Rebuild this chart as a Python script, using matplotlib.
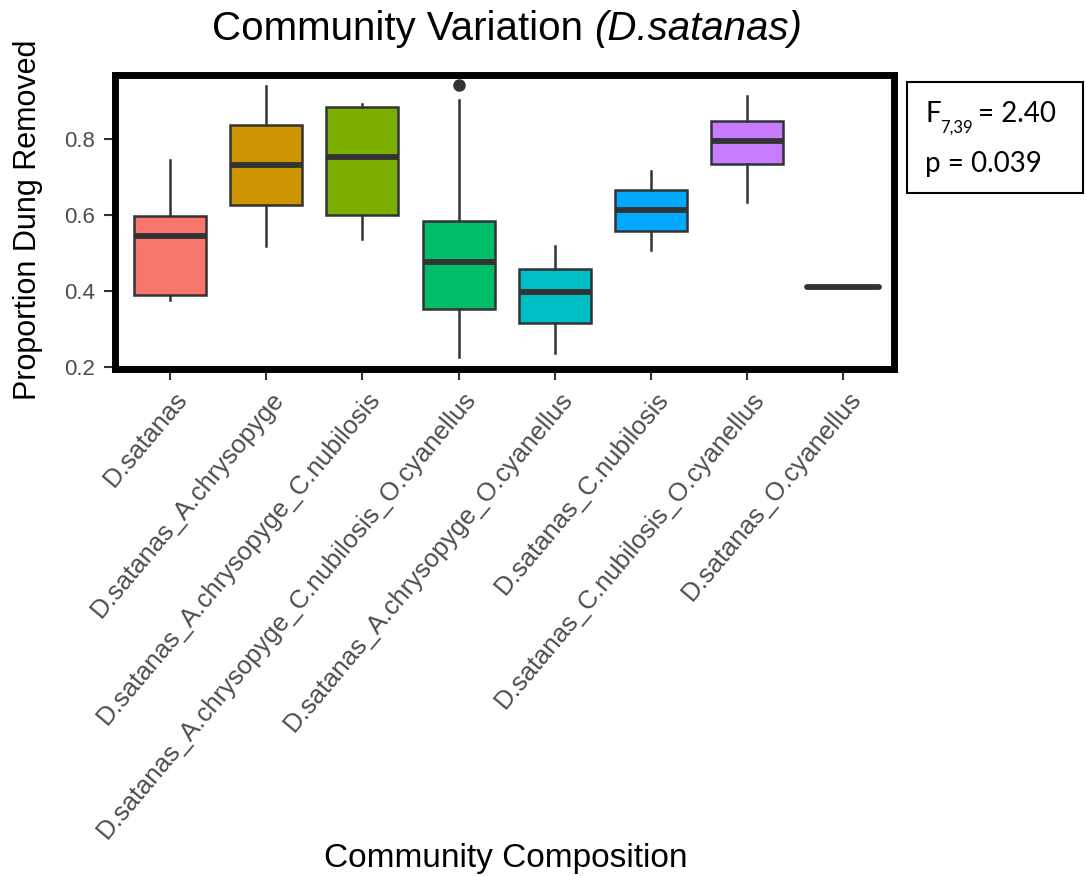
import matplotlib
matplotlib.use("Agg")
import matplotlib.pyplot as plt
from matplotlib.patches import Rectangle
from matplotlib.transforms import ScaledTranslation
import numpy as np

plt.rcParams['font.family'] = ['Liberation Sans', 'DejaVu Sans']

groups = ['D.satanas',
          'D.satanas_A.chrysopyge',
          'D.satanas_A.chrysopyge_C.nubilosis',
          'D.satanas_A.chrysopyge_C.nubilosis_O.cyanellus',
          'D.satanas_A.chrysopyge_O.cyanellus',
          'D.satanas_C.nubilosis',
          'D.satanas_C.nubilosis_O.cyanellus',
          'D.satanas_O.cyanellus']

# box summaries (proportion of dung removed)
medians = [0.545, 0.731, 0.753, 0.476, 0.397, 0.613, 0.795, 0.411]
q1 = [0.389, 0.625, 0.601, 0.354, 0.315, 0.559, 0.733, 0.411]
q3 = [0.597, 0.836, 0.885, 0.585, 0.458, 0.666, 0.846, 0.411]
whisker_lo = [0.376, 0.519, 0.537, 0.227, 0.236, 0.508, 0.633, 0.411]
whisker_hi = [0.745, 0.940, 0.891, 0.903, 0.519, 0.716, 0.914, 0.411]
outliers = [[], [], [], [0.942], [], [], [], []]

fills = ['#F8766D', '#CD9600', '#7CAE00', '#00BE67',
         '#00BFC4', '#00A9FF', '#C77CFF', '#FF61CC']

f_stat = '2.40'
f_df = '7,39'
p_value = '0.039'

W, H = 1086, 876
fig = plt.figure(figsize=(W / 100, H / 100), dpi=100)
ax = fig.add_axes([114.5 / W, 1 - 369 / H, (894 - 114.5) / W, (369 - 75) / H])

stats = []
for i in range(len(groups)):
    stats.append(dict(med=medians[i], q1=q1[i], q3=q3[i],
                      whislo=whisker_lo[i], whishi=whisker_hi[i],
                      fliers=outliers[i], label=groups[i]))

pos = np.arange(1, len(groups) + 1)
bp = ax.bxp(stats, positions=pos, widths=0.75, patch_artist=True,
            showcaps=False,
            boxprops=dict(edgecolor='#333333', linewidth=1.8),
            whiskerprops=dict(color='#333333', linewidth=1.8),
            medianprops=dict(color='#333333', linewidth=4.2, solid_capstyle='butt'),
            flierprops=dict(marker='o', markersize=8, markerfacecolor='#333333',
                            markeredgecolor='#333333'))
for patch, c in zip(bp['boxes'], fills):
    patch.set_facecolor(c)
bp['medians'][-1].set_solid_capstyle('round')

ax.set_xlim(0.423, 8.526)
ax.set_ylim(0.195, 0.968)
ax.set_yticks([0.2, 0.4, 0.6, 0.8])
ax.set_yticklabels(['0.2', '0.4', '0.6', '0.8'])
ax.set_xticks(pos)
ax.set_xticklabels(groups, rotation=50, ha='right', rotation_mode='anchor')

for s in ax.spines.values():
    s.set_linewidth(5)
    s.set_color('black')
ax.tick_params(axis='both', length=8, width=1.5, color='#333333',
               labelcolor='#4D4D4D', labelsize=16)
ax.tick_params(axis='y', pad=6)
ax.tick_params(axis='x', pad=5, labelsize=18.5)
shift = ScaledTranslation(4 / 100, 0, fig.dpi_scale_trans)
for lab in ax.get_xticklabels():
    lab.set_transform(lab.get_transform() + shift)

# title: plain part plus italic species name, centred together
renderer = fig.canvas.get_renderer()
t1 = fig.text(0, 1 - 40 / H, 'Community Variation ', ha='left', va='baseline', fontsize=29)
t2 = fig.text(0, 1 - 40 / H, '(D.satanas)', ha='left', va='baseline', fontsize=29,
              style='italic')
w1 = t1.get_window_extent(renderer).width
w2 = t2.get_window_extent(renderer).width
x0 = 507 - (w1 + w2) / 2
t1.set_x(x0 / W)
t2.set_x((x0 + w1) / W)

fig.text(28 / W, 1 - 220 / H, 'Proportion Dung Removed', rotation=90,
         ha='center', va='center', fontsize=22)
fig.text(506 / W, 1 - 867 / H, 'Community Composition',
         ha='center', va='baseline', fontsize=24)

# ANOVA result box
fig.add_artist(Rectangle((906.7 / W, 1 - 193 / H), (1083 - 906.7) / W, (193 - 81.7) / H,
                         transform=fig.transFigure, fill=False,
                         edgecolor='black', linewidth=1.5))
fig.text(925 / W, 1 - 122 / H, 'F', family='Lato', fontsize=20, va='baseline')
fig.text(940 / W, 1 - 133 / H, f_df, family='Lato', fontsize=12, va='baseline')
fig.text(978 / W, 1 - 122 / H, '= ' + f_stat, family='Lato', fontsize=20, va='baseline')
fig.text(925 / W, 1 - 172 / H, 'p = ' + p_value, family='Lato', fontsize=20, va='baseline')

fig.savefig('out.png', dpi=100)
